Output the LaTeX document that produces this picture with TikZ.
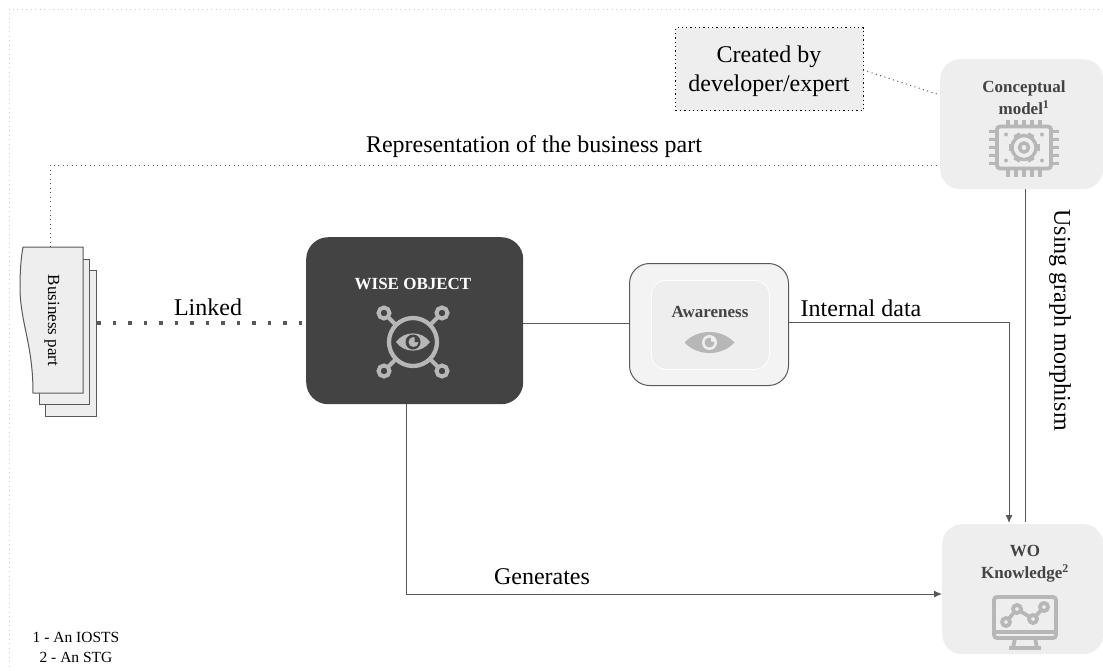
\documentclass[tikz,border=0pt]{standalone}
\usepackage{fontspec}
\setmainfont{Liberation Serif}
\usetikzlibrary{arrows.meta,calc}
\definecolor{dk}{HTML}{434343}
\definecolor{pale}{HTML}{EEEEEE}
\definecolor{paler}{HTML}{F3F3F3}
\definecolor{ico}{HTML}{B7B7B7}
\definecolor{frame}{HTML}{CCCCCC}
\definecolor{ln}{HTML}{595959}
\tikzset{
  x=1pt,y=-1pt,
  card/.style={fill=pale,rounded corners=20pt,inner sep=0,anchor=north west},
  boxlabel/.style={font=\bfseries\fontsize{17}{22}\selectfont,text=dk,align=center},
  lbl/.style={font=\fontsize{24}{29}\selectfont,text=black,align=center},
  conn/.style={draw=ln,line width=1pt},
  arrowconn/.style={conn,-{Latex[length=8pt,width=7pt]}},
  dotconn/.style={draw=ln,line width=1pt,dash pattern=on 1pt off 3.5pt},
  icon/.style={draw=ico,line width=3.8pt,fill=none},
  sheet/.style={draw=ln,line width=1pt,fill=pale,inner sep=0,anchor=north west},
}
\begin{document}
\begin{tikzpicture}
\useasboundingbox (0,0) rectangle (1103,670);
\fill[white] (0,0) rectangle (1103,670);
% frame
\coordinate (fa) at (1103,9);
\coordinate (fb) at (9,9);
\coordinate (fc) at (9,670);
\draw[frame,line width=1pt,dash pattern=on 1pt off 3.5pt] (fa) -- (fb) -- (fc);
% boxes
\node[card,minimum width=163pt,minimum height=130pt] (concept) at (940,59) {};
\node[card,minimum width=161pt,minimum height=130pt] (wok) at (942,524) {};
\node[fill=dk,rounded corners=22pt,inner sep=0,anchor=north west,minimum width=217pt,minimum height=167pt] (wise) at (306,237) {};
\node[draw=ln,line width=1pt,fill=paler,rounded corners=20pt,inner sep=0,anchor=north west,minimum width=159pt,minimum height=122pt] (aware) at (629,263) {};
\node[draw=white,line width=.8pt,fill=pale,rounded corners=15pt,inner sep=0,anchor=north west,minimum width=118pt,minimum height=89pt] (awin) at (651,280) {};
\node[draw=black,line width=1.3pt,dash pattern=on 1.3pt off 3pt,fill=pale,inner sep=0,anchor=north west,minimum width=188pt,minimum height=83pt] (created) at (675,27) {};
\node[font=\fontsize{24}{29}\selectfont,align=center] (ctxt) at (769,71) {Created by\\developer/expert};
% business part
\node[sheet,minimum width=51pt,minimum height=146pt] (b3) at (45,270) {};
\node[sheet,minimum width=50pt,minimum height=145pt] (b2) at (39,259) {};
\node[inner sep=0,anchor=north west,minimum width=63pt,minimum height=146pt] (b1) at (20,247) {};
\draw[draw=ln,line width=1pt,fill=pale] (23,247) -- (83,247) -- (83,393) -- (33,393)
  .. controls (33,345) and (21,325) .. (20,290) .. controls (20,270) and (21,258) .. (23,247) -- cycle;
\node[rotate=-90,font=\fontsize{17}{20}\selectfont] (btxt) at (52,320.5) {Business part};
% connector anchors
\coordinate (lky) at (200,323);
\coordinate (repx) at (50,247);
\coordinate (repc) at (50,165);
\coordinate (repe) at (940,165);
\coordinate (crs) at (863,70);
\coordinate (cre) at (940,95);
\coordinate (wox) at (1009,523);
\coordinate (morb) at (1025,522);
\coordinate (genb) at (942,594);
\coordinate (inty) at (788,322);
\coordinate (wiseb) at (406,404);
% connectors
\draw[dotconn] (repx) -- (repc) -- (repe);
\draw[dotconn] (crs) -- (cre);
\draw[draw=ln,line width=3.5pt,dash pattern=on 3.5pt off 12pt] (b3.east |- lky) -- (wise.west |- lky);
\draw[conn] (wise.east |- lky) -- (aware.west |- lky);
\draw[arrowconn] (inty) -| (wox);
\draw[conn] (concept.south -| morb) -- (morb);
\draw[arrowconn] (wiseb) |- (genb);
% labels on connectors
\node[lbl] (l1) at (534,147) {Representation of the business part};
\node[lbl] (l2) at (208,307) {Linked};
\node[lbl] (l3) at (861,308) {Internal data};
\node[lbl] (l4) at (542,577) {Generates};
\node[lbl,rotate=-90] (l5) at (1060,320) {Using graph morphism};
\node[font=\fontsize{15.5}{20}\selectfont,align=center] (note) at (76,647) {1 - An IOSTS\\2 - An STG};
% box labels
\node[boxlabel] (tc) at (1024,97.5) {Conceptual\\model\textsuperscript{1}};
\node[boxlabel] (tk) at (1025,564) {WO\\Knowledge\textsuperscript{2}};
\node[boxlabel,text=white] (tw) at (413,284) {WISE OBJECT};
\node[boxlabel] (ta) at (710,312) {Awareness};
% chip icon
\begin{scope}[shift={(1024,147.5)}]
  \foreach \i in {-16,-8,0,8,16} {
    \draw[icon,line width=3.4pt] (\i,-27.5) -- (\i,-21);
    \draw[icon,line width=3.4pt] (\i,21) -- (\i,29);
    \draw[icon,line width=3.4pt] (-35,\i) -- (-27,\i);
    \draw[icon,line width=3.4pt] (27,\i) -- (35,\i);
  }
  \draw[icon,rounded corners=3pt] (-27,-21) rectangle (27,21);
  \foreach \a in {0,60,...,300} \draw[ico,line width=6.5pt] (\a:11) -- (\a:15.5);
  \draw[ico,line width=3.5pt,fill=pale] (0,0) circle (12);
  \fill[pale] (0,0) circle (10);
  \draw[ico,line width=3.5pt] (0,0) circle (4.5);
  \foreach \p in {(-18,-13),(18,-13),(-18,13),(18,13)} \fill[ico] \p circle (2);
\end{scope}
% wise icon
\begin{scope}[shift={(413,342)}]
  \draw[icon,line width=4.3pt] (0,0) circle (24);
  \foreach \sx/\sy in {-1/-1,1/-1,-1/1,1/1} {
    \draw[icon,line width=4pt] (\sx*17,\sy*17) -- (\sx*25,\sy*25);
    \draw[icon,line width=4pt] (\sx*29,\sy*29) circle (5.5);
  }
  \fill[ico] (-17,0) .. controls (-9,-11.5) and (9,-11.5) .. (17,0) .. controls (9,11.5) and (-9,11.5) .. (-17,0) -- cycle;
  \fill[dk] (0,0) circle (7.5);
  \fill[ico] (0.5,0) circle (5);
  \fill[dk] (1.5,-5.5) -- (1.5,0) -- (7,0) arc (0:-90:5.5) -- cycle;
\end{scope}
% awareness eye
\begin{scope}[shift={(709.5,342.5)}]
  \fill[ico] (-25,0) .. controls (-12,-14) and (12,-14) .. (25,0) .. controls (12,14) and (-12,14) .. (-25,0) -- cycle;
  \fill[pale] (0,0) circle (7.5);
  \fill[ico] (0,0) circle (5);
  \fill[pale] (1.5,-5.5) -- (1.5,-1) -- (6,-1) arc (0:-90:4.5) -- cycle;
\end{scope}
% monitor icon
\begin{scope}[shift={(1025,617)}]
  \draw[icon,rounded corners=3pt] (-31,-20) rectangle (31,21);
  \draw[icon] (-31,15) -- (31,15);
  \draw[icon] (-10,21) -- (-12,31);
  \draw[icon] (10,21) -- (12,31);
  \draw[icon] (-16,31) -- (16,31);
  \draw[icon] (-19,5) -- (-8,-8) -- (8,2) -- (19,-10);
  \foreach \p in {(-19,5),(-8,-8),(8,2),(19,-10)} \draw[icon,fill=pale] \p circle (4);
\end{scope}
\end{tikzpicture}
\end{document}
